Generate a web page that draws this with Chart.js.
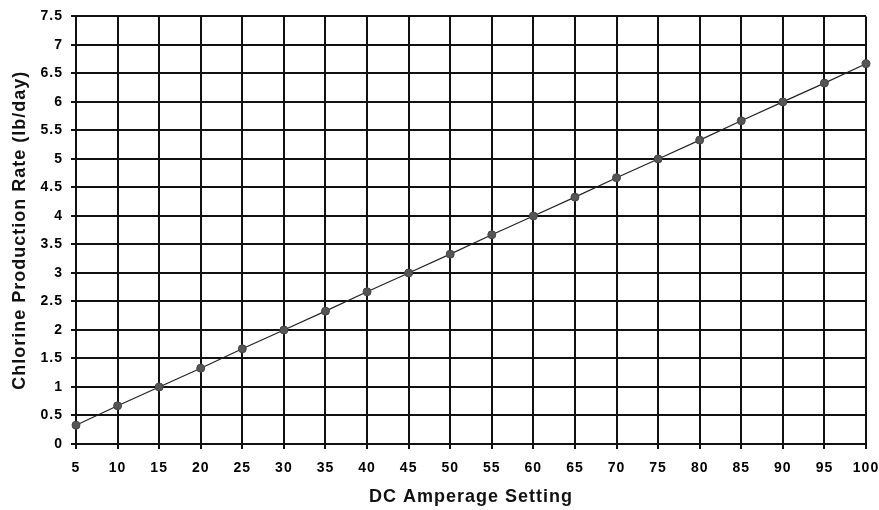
<!DOCTYPE html>
<html>
<head>
<meta charset="utf-8">
<script src="https://cdn.jsdelivr.net/npm/chart.js@4"></script>
<style>
  html,body{margin:0;padding:0;background:#fff;}
  #wrap{width:879px;height:510px;position:relative;}
</style>
</head>
<body>
<div id="wrap"><canvas id="c"></canvas></div>
<script>
// dc amperage vs chlorine output
const amps = [5,10,15,20,25,30,35,40,45,50,55,60,65,70,75,80,85,90,95,100];
const chlorine = [0.33,0.67,1.0,1.33,1.67,2.0,2.33,2.67,3.0,3.33,3.67,4.0,4.33,4.67,5.0,5.33,5.67,6.0,6.33,6.67];
const xTitle = 'DC Amperage Setting';
const yTitle = 'Chlorine Production Rate (lb/day)';

const fam = '"Liberation Sans", Arial, sans-serif';
const tickFont = {family:fam, size:14, weight:'bold'};

// the original text is a bit spread out
const spacing = {
  id:'spacing',
  beforeLayout(c){ c.ctx.letterSpacing = '1px'; },
  beforeDraw(c){ c.ctx.letterSpacing = '1px'; }
};

new Chart(document.getElementById('c'), {
  type:'line',
  data:{datasets:[{
    data: amps.map((a,i)=>({x:a, y:chlorine[i]})),
    borderColor:'#222', borderWidth:1.2,
    pointStyle:'circle', pointRadius:4,
    pointBackgroundColor:'#555', pointBorderColor:'#444', pointBorderWidth:1,
    tension:0, clip:false
  }]},
  plugins:[spacing],
  options:{
    responsive:true, maintainAspectRatio:false, animation:false,
    layout:{padding:{top:15,right:13,left:0,bottom:0}},
    plugins:{legend:{display:false}, tooltip:{enabled:false}},
    scales:{
      x:{type:'linear', min:5, max:100,
        afterFit: s=>{ s.height = 66; s.paddingRight = 0; s.paddingLeft = 0; },
        ticks:{stepSize:5, color:'#000', font:tickFont, padding:11, maxRotation:0, autoSkip:false},
        grid:{color:'#111', lineWidth:2, tickLength:5},
        border:{color:'#111', width:2},
        title:{display:true, text:xTitle, color:'#111', font:{family:fam, size:18, weight:'bold'}, padding:{top:0, bottom:2}}
      },
      y:{min:0, max:7.5,
        afterFit: s=>{ s.width = 76; },
        ticks:{stepSize:0.5, color:'#000', font:tickFont, padding:8, callback:v=>String(v)},
        grid:{color:'#111', lineWidth:2, tickLength:5},
        border:{color:'#111', width:2},
        title:{display:true, text:yTitle, color:'#111', font:{family:fam, size:18, weight:'bold'}, padding:{top:9, bottom:0}}
      }
    }
  }
});
</script>
</body>
</html>
